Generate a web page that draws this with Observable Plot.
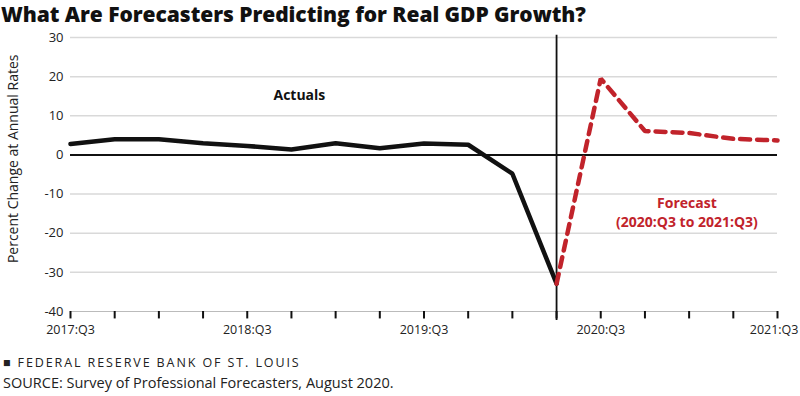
<!DOCTYPE html>
<html>
<head>
<meta charset="utf-8">
<script src="https://cdn.jsdelivr.net/npm/d3@7"></script>
<script src="https://cdn.jsdelivr.net/npm/@observablehq/plot@0.6"></script>
<style>
  body { margin: 0; background: #fff; font-family: "Open Sans", sans-serif; width: 800px; height: 396px; overflow: hidden; }
  #title { position: absolute; left: 1px; top: 1px; font-family: "Open Sans", sans-serif; font-weight: 800; font-size: 21px; line-height: 26px; color: #111; letter-spacing: -0.05px; white-space: nowrap; }
  #foot1 { position: absolute; left: 3px; top: 354px; font-size: 12.5px; letter-spacing: 1.9px; color: #222; }
  #foot2 { position: absolute; left: 3px; top: 373px; font-size: 14.5px; color: #222; }
  #chart { position: absolute; left: 0; top: 30px; }
</style>
</head>
<body>
<div id="title">What Are Forecasters Predicting for Real GDP Growth?</div>
<div id="chart"></div>
<div id="foot1">&#9632; FEDERAL RESERVE BANK OF ST. LOUIS</div>
<div id="foot2">SOURCE: Survey of Professional Forecasters, August 2020.</div>
<script>
const quarters = ["2017:Q3","2017:Q4","2018:Q1","2018:Q2","2018:Q3","2018:Q4","2019:Q1","2019:Q2","2019:Q3","2019:Q4","2020:Q1","2020:Q2","2020:Q3","2020:Q4","2021:Q1","2021:Q2","2021:Q3"];
const actualValues = [2.8, 4.0, 4.0, 3.0, 2.3, 1.4, 3.0, 1.7, 2.9, 2.6, -4.8, -32.9];
const forecastQuarters = ["2020:Q2","2020:Q3","2020:Q4","2021:Q1","2021:Q2","2021:Q3"];
const forecastValues = [-32.9, 19.5, 6.1, 5.6, 4.1, 3.7];
const yTicks = [30, 20, 10, 0, -10, -20, -30, -40];
const xLabelTicks = ["2017:Q3","2018:Q3","2019:Q3","2020:Q3","2021:Q3"];

const idx = q => quarters.indexOf(q);
const actual = actualValues.map((v, i) => ({x: i, y: v}));
const forecast = forecastValues.map((v, i) => ({x: idx(forecastQuarters[i]), y: v}));
const red = "#c1232b";
const lastLabel = xLabelTicks[xLabelTicks.length - 1];

const chart = Plot.plot({
  width: 800,
  height: 310,
  marginLeft: 70,
  marginRight: 23,
  marginTop: 7,
  marginBottom: 29,
  style: {fontFamily: "Open Sans, sans-serif", fontSize: "12px", color: "#222", overflow: "visible"},
  x: {type: "linear", domain: [0, quarters.length - 1], axis: null},
  y: {type: "linear", domain: [-40, 30], axis: null},
  marks: [
    Plot.ruleY(yTicks.filter(d => d !== 0 && d !== -40), {y: d => d, stroke: "#d9d9d9", strokeWidth: 1.5}),
    Plot.ruleY([-40], {y: d => d, stroke: "#bbbbbb", strokeWidth: 1.2}),
    Plot.text(yTicks, {x: 0, y: d => d, text: d => String(d), textAnchor: "end", dx: -7, fontSize: 13, fill: "#222"}),
    Plot.ruleX(d3.range(quarters.length), {x: d => d, y1: -40, y2: -41.9, stroke: "#111", strokeWidth: 2}),
    Plot.text(xLabelTicks.filter(d => d !== lastLabel), {x: d => idx(d), y: -40, text: d => d, dy: 18, fontSize: 12.5, fill: "#222"}),
    Plot.text([lastLabel], {x: d => idx(d), y: -40, text: d => d, dy: 18, dx: 21, textAnchor: "end", fontSize: 12.5, fill: "#222"}),
    Plot.ruleY([0], {y: d => d, stroke: "#111", strokeWidth: 2}),
    Plot.ruleX([idx("2020:Q2")], {x: d => d, y1: 30.6, y2: -42.3, stroke: "#111", strokeWidth: 1.8}),
    Plot.line(actual, {x: "x", y: "y", stroke: "#111", strokeWidth: 4.5, strokeLinejoin: "miter", strokeLinecap: "round"}),
    Plot.line(forecast, {x: "x", y: "y", stroke: red, strokeWidth: 4.5, strokeDasharray: "10,7", strokeLinejoin: "miter"}),
    Plot.text(["Actuals"], {x: 5.18, y: 15.2, text: d => d, fontWeight: 700, fontSize: 14, fill: "#111"}),
    Plot.text(["Forecast", "(2020:Q3 to 2021:Q3)"], {x: 13.95, y: (d, i) => i === 0 ? -12.3 : -17.3, text: d => d, fontWeight: 700, fontSize: 14, fill: red}),
    Plot.text(["Percent Change at Annual Rates"], {x: 0, y: -1, text: d => d, rotate: -90, dx: -57, fontSize: 14, fill: "#222"})
  ]
});
document.getElementById("chart").appendChild(chart);
</script>
</body>
</html>
